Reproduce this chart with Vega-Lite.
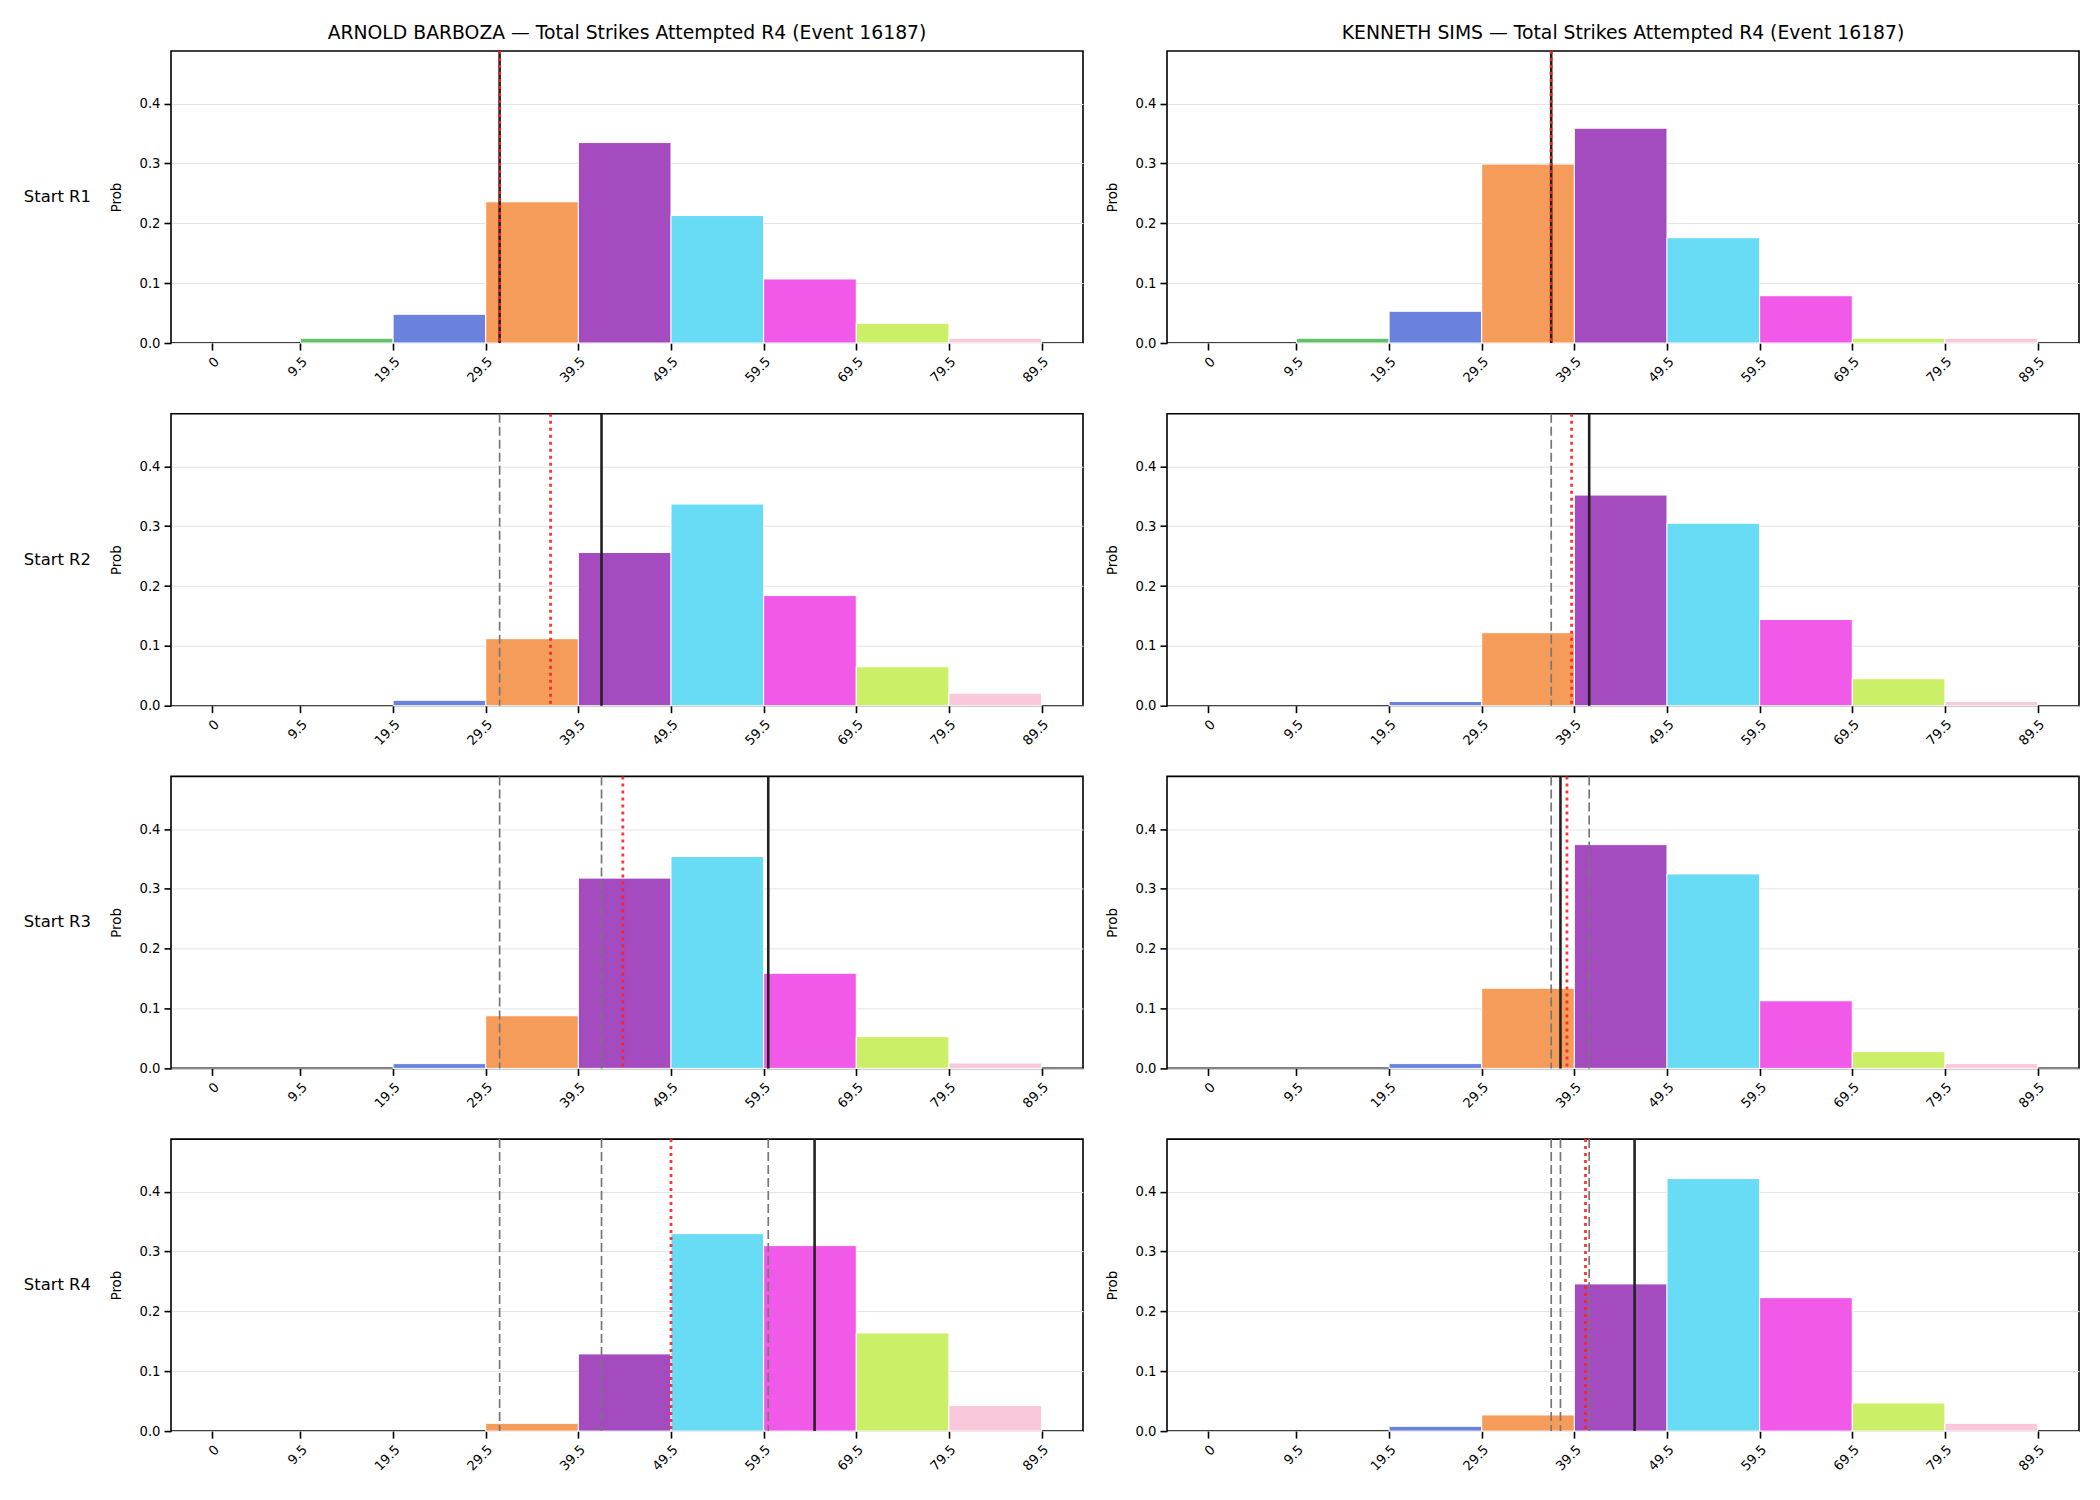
{
  "$schema": "https://vega.github.io/schema/vega-lite/v6.json",
  "background": "white",
  "padding": {"left": 23, "top": 23, "right": 5, "bottom": 5},
  "data": {
    "values": [
      {"k": "bar", "f": "ARNOLD BARBOZA", "s": "Start R1", "b": "b1", "x0": 9.5, "x1": 19.5, "p": 0.008},
      {"k": "bar", "f": "ARNOLD BARBOZA", "s": "Start R1", "b": "b2", "x0": 19.5, "x1": 29.5, "p": 0.048},
      {"k": "bar", "f": "ARNOLD BARBOZA", "s": "Start R1", "b": "b3", "x0": 29.5, "x1": 39.5, "p": 0.236},
      {"k": "bar", "f": "ARNOLD BARBOZA", "s": "Start R1", "b": "b4", "x0": 39.5, "x1": 49.5, "p": 0.335},
      {"k": "bar", "f": "ARNOLD BARBOZA", "s": "Start R1", "b": "b5", "x0": 49.5, "x1": 59.5, "p": 0.213},
      {"k": "bar", "f": "ARNOLD BARBOZA", "s": "Start R1", "b": "b6", "x0": 59.5, "x1": 69.5, "p": 0.107},
      {"k": "bar", "f": "ARNOLD BARBOZA", "s": "Start R1", "b": "b7", "x0": 69.5, "x1": 79.5, "p": 0.033},
      {"k": "bar", "f": "ARNOLD BARBOZA", "s": "Start R1", "b": "b8", "x0": 79.5, "x1": 89.5, "p": 0.008},

      {"k": "bar", "f": "KENNETH SIMS", "s": "Start R1", "b": "b1", "x0": 9.5, "x1": 19.5, "p": 0.008},
      {"k": "bar", "f": "KENNETH SIMS", "s": "Start R1", "b": "b2", "x0": 19.5, "x1": 29.5, "p": 0.053},
      {"k": "bar", "f": "KENNETH SIMS", "s": "Start R1", "b": "b3", "x0": 29.5, "x1": 39.5, "p": 0.299},
      {"k": "bar", "f": "KENNETH SIMS", "s": "Start R1", "b": "b4", "x0": 39.5, "x1": 49.5, "p": 0.359},
      {"k": "bar", "f": "KENNETH SIMS", "s": "Start R1", "b": "b5", "x0": 49.5, "x1": 59.5, "p": 0.176},
      {"k": "bar", "f": "KENNETH SIMS", "s": "Start R1", "b": "b6", "x0": 59.5, "x1": 69.5, "p": 0.079},
      {"k": "bar", "f": "KENNETH SIMS", "s": "Start R1", "b": "b7", "x0": 69.5, "x1": 79.5, "p": 0.008},
      {"k": "bar", "f": "KENNETH SIMS", "s": "Start R1", "b": "b8", "x0": 79.5, "x1": 89.5, "p": 0.008},

      {"k": "bar", "f": "ARNOLD BARBOZA", "s": "Start R2", "b": "b2", "x0": 19.5, "x1": 29.5, "p": 0.009},
      {"k": "bar", "f": "ARNOLD BARBOZA", "s": "Start R2", "b": "b3", "x0": 29.5, "x1": 39.5, "p": 0.112},
      {"k": "bar", "f": "ARNOLD BARBOZA", "s": "Start R2", "b": "b4", "x0": 39.5, "x1": 49.5, "p": 0.256},
      {"k": "bar", "f": "ARNOLD BARBOZA", "s": "Start R2", "b": "b5", "x0": 49.5, "x1": 59.5, "p": 0.337},
      {"k": "bar", "f": "ARNOLD BARBOZA", "s": "Start R2", "b": "b6", "x0": 59.5, "x1": 69.5, "p": 0.184},
      {"k": "bar", "f": "ARNOLD BARBOZA", "s": "Start R2", "b": "b7", "x0": 69.5, "x1": 79.5, "p": 0.065},
      {"k": "bar", "f": "ARNOLD BARBOZA", "s": "Start R2", "b": "b8", "x0": 79.5, "x1": 89.5, "p": 0.021},

      {"k": "bar", "f": "KENNETH SIMS", "s": "Start R2", "b": "b2", "x0": 19.5, "x1": 29.5, "p": 0.007},
      {"k": "bar", "f": "KENNETH SIMS", "s": "Start R2", "b": "b3", "x0": 29.5, "x1": 39.5, "p": 0.122},
      {"k": "bar", "f": "KENNETH SIMS", "s": "Start R2", "b": "b4", "x0": 39.5, "x1": 49.5, "p": 0.352},
      {"k": "bar", "f": "KENNETH SIMS", "s": "Start R2", "b": "b5", "x0": 49.5, "x1": 59.5, "p": 0.305},
      {"k": "bar", "f": "KENNETH SIMS", "s": "Start R2", "b": "b6", "x0": 59.5, "x1": 69.5, "p": 0.144},
      {"k": "bar", "f": "KENNETH SIMS", "s": "Start R2", "b": "b7", "x0": 69.5, "x1": 79.5, "p": 0.045},
      {"k": "bar", "f": "KENNETH SIMS", "s": "Start R2", "b": "b8", "x0": 79.5, "x1": 89.5, "p": 0.007},

      {"k": "bar", "f": "ARNOLD BARBOZA", "s": "Start R3", "b": "b2", "x0": 19.5, "x1": 29.5, "p": 0.008},
      {"k": "bar", "f": "ARNOLD BARBOZA", "s": "Start R3", "b": "b3", "x0": 29.5, "x1": 39.5, "p": 0.088},
      {"k": "bar", "f": "ARNOLD BARBOZA", "s": "Start R3", "b": "b4", "x0": 39.5, "x1": 49.5, "p": 0.318},
      {"k": "bar", "f": "ARNOLD BARBOZA", "s": "Start R3", "b": "b5", "x0": 49.5, "x1": 59.5, "p": 0.354},
      {"k": "bar", "f": "ARNOLD BARBOZA", "s": "Start R3", "b": "b6", "x0": 59.5, "x1": 69.5, "p": 0.159},
      {"k": "bar", "f": "ARNOLD BARBOZA", "s": "Start R3", "b": "b7", "x0": 69.5, "x1": 79.5, "p": 0.053},
      {"k": "bar", "f": "ARNOLD BARBOZA", "s": "Start R3", "b": "b8", "x0": 79.5, "x1": 89.5, "p": 0.009},

      {"k": "bar", "f": "KENNETH SIMS", "s": "Start R3", "b": "b2", "x0": 19.5, "x1": 29.5, "p": 0.008},
      {"k": "bar", "f": "KENNETH SIMS", "s": "Start R3", "b": "b3", "x0": 29.5, "x1": 39.5, "p": 0.134},
      {"k": "bar", "f": "KENNETH SIMS", "s": "Start R3", "b": "b4", "x0": 39.5, "x1": 49.5, "p": 0.374},
      {"k": "bar", "f": "KENNETH SIMS", "s": "Start R3", "b": "b5", "x0": 49.5, "x1": 59.5, "p": 0.325},
      {"k": "bar", "f": "KENNETH SIMS", "s": "Start R3", "b": "b6", "x0": 59.5, "x1": 69.5, "p": 0.113},
      {"k": "bar", "f": "KENNETH SIMS", "s": "Start R3", "b": "b7", "x0": 69.5, "x1": 79.5, "p": 0.028},
      {"k": "bar", "f": "KENNETH SIMS", "s": "Start R3", "b": "b8", "x0": 79.5, "x1": 89.5, "p": 0.008},

      {"k": "bar", "f": "ARNOLD BARBOZA", "s": "Start R4", "b": "b3", "x0": 29.5, "x1": 39.5, "p": 0.013},
      {"k": "bar", "f": "ARNOLD BARBOZA", "s": "Start R4", "b": "b4", "x0": 39.5, "x1": 49.5, "p": 0.129},
      {"k": "bar", "f": "ARNOLD BARBOZA", "s": "Start R4", "b": "b5", "x0": 49.5, "x1": 59.5, "p": 0.330},
      {"k": "bar", "f": "ARNOLD BARBOZA", "s": "Start R4", "b": "b6", "x0": 59.5, "x1": 69.5, "p": 0.310},
      {"k": "bar", "f": "ARNOLD BARBOZA", "s": "Start R4", "b": "b7", "x0": 69.5, "x1": 79.5, "p": 0.164},
      {"k": "bar", "f": "ARNOLD BARBOZA", "s": "Start R4", "b": "b8", "x0": 79.5, "x1": 89.5, "p": 0.043},

      {"k": "bar", "f": "KENNETH SIMS", "s": "Start R4", "b": "b2", "x0": 19.5, "x1": 29.5, "p": 0.008},
      {"k": "bar", "f": "KENNETH SIMS", "s": "Start R4", "b": "b3", "x0": 29.5, "x1": 39.5, "p": 0.027},
      {"k": "bar", "f": "KENNETH SIMS", "s": "Start R4", "b": "b4", "x0": 39.5, "x1": 49.5, "p": 0.246},
      {"k": "bar", "f": "KENNETH SIMS", "s": "Start R4", "b": "b5", "x0": 49.5, "x1": 59.5, "p": 0.422},
      {"k": "bar", "f": "KENNETH SIMS", "s": "Start R4", "b": "b6", "x0": 59.5, "x1": 69.5, "p": 0.223},
      {"k": "bar", "f": "KENNETH SIMS", "s": "Start R4", "b": "b7", "x0": 69.5, "x1": 79.5, "p": 0.047},
      {"k": "bar", "f": "KENNETH SIMS", "s": "Start R4", "b": "b8", "x0": 79.5, "x1": 89.5, "p": 0.013},

      {"k": "cur", "f": "ARNOLD BARBOZA", "s": "Start R1", "v": 31},
      {"k": "exp", "f": "ARNOLD BARBOZA", "s": "Start R1", "v": 31},
      {"k": "prev", "f": "ARNOLD BARBOZA", "s": "Start R2", "v": 31},
      {"k": "exp", "f": "ARNOLD BARBOZA", "s": "Start R2", "v": 36.5},
      {"k": "cur", "f": "ARNOLD BARBOZA", "s": "Start R2", "v": 42},
      {"k": "prev", "f": "ARNOLD BARBOZA", "s": "Start R3", "v": 31},
      {"k": "prev", "f": "ARNOLD BARBOZA", "s": "Start R3", "v": 42},
      {"k": "exp", "f": "ARNOLD BARBOZA", "s": "Start R3", "v": 44.3},
      {"k": "cur", "f": "ARNOLD BARBOZA", "s": "Start R3", "v": 60},
      {"k": "prev", "f": "ARNOLD BARBOZA", "s": "Start R4", "v": 31},
      {"k": "prev", "f": "ARNOLD BARBOZA", "s": "Start R4", "v": 42},
      {"k": "prev", "f": "ARNOLD BARBOZA", "s": "Start R4", "v": 60},
      {"k": "exp", "f": "ARNOLD BARBOZA", "s": "Start R4", "v": 49.5},
      {"k": "cur", "f": "ARNOLD BARBOZA", "s": "Start R4", "v": 65},

      {"k": "cur", "f": "KENNETH SIMS", "s": "Start R1", "v": 37},
      {"k": "exp", "f": "KENNETH SIMS", "s": "Start R1", "v": 37},
      {"k": "prev", "f": "KENNETH SIMS", "s": "Start R2", "v": 37},
      {"k": "exp", "f": "KENNETH SIMS", "s": "Start R2", "v": 39.2},
      {"k": "cur", "f": "KENNETH SIMS", "s": "Start R2", "v": 41.1},
      {"k": "prev", "f": "KENNETH SIMS", "s": "Start R3", "v": 37},
      {"k": "prev", "f": "KENNETH SIMS", "s": "Start R3", "v": 41.1},
      {"k": "exp", "f": "KENNETH SIMS", "s": "Start R3", "v": 38.7},
      {"k": "cur", "f": "KENNETH SIMS", "s": "Start R3", "v": 38},
      {"k": "prev", "f": "KENNETH SIMS", "s": "Start R4", "v": 37},
      {"k": "prev", "f": "KENNETH SIMS", "s": "Start R4", "v": 38},
      {"k": "prev", "f": "KENNETH SIMS", "s": "Start R4", "v": 41.1},
      {"k": "exp", "f": "KENNETH SIMS", "s": "Start R4", "v": 40.7},
      {"k": "cur", "f": "KENNETH SIMS", "s": "Start R4", "v": 46}
    ]
  },
  "facet": {
    "column": {
      "field": "f", "type": "nominal", "sort": ["ARNOLD BARBOZA", "KENNETH SIMS"],
      "header": {
        "title": null,
        "labelExpr": "datum.value + ' — Total Strikes Attempted R4 (Event 16187)'",
        "labelFont": "DejaVu Sans", "labelFontSize": 18.8, "labelColor": "black", "labelPadding": 5.7
      }
    },
    "row": {
      "field": "s", "type": "nominal",
      "header": {
        "title": null, "labelAngle": 0, "labelOrient": "left", "labelAlign": "right",
        "labelFont": "DejaVu Sans", "labelFontSize": 16.4, "labelColor": "black", "labelPadding": -50
      }
    }
  },
  "spacing": {"column": 20, "row": 24.7},
  "resolve": {"axis": {"x": "independent", "y": "independent"}},
  "spec": {
    "width": 912,
    "height": 292,
    "layer": [
      {
        "transform": [{"filter": "datum.k === 'bar'"}],
        "mark": {"type": "rect", "stroke": "white", "strokeWidth": 1},
        "encoding": {
          "x": {
            "field": "x0", "type": "quantitative",
            "scale": {"domain": [-4.475, 93.975], "nice": false, "zero": false},
            "axis": {"title": null, "values": [0, 9.5, 19.5, 29.5, 39.5, 49.5, 59.5, 69.5, 79.5, 89.5], "labelExpr": "'' + datum.value"}
          },
          "x2": {"field": "x1"},
          "y": {
            "field": "p", "type": "quantitative",
            "scale": {"domain": [0, 0.488], "nice": false},
            "axis": {"title": "Prob", "values": [0, 0.1, 0.2, 0.3, 0.4], "format": ".1f"}
          },
          "y2": {"datum": 0},
          "color": {
            "field": "b", "type": "nominal", "legend": null,
            "scale": {
              "domain": ["b1", "b2", "b3", "b4", "b5", "b6", "b7", "b8"],
              "range": ["#63c16c", "#6a82de", "#f59c5b", "#a54bc0", "#68dbf5", "#f15ae9", "#cbf068", "#f9c8da"]
            }
          }
        }
      },
      {
        "transform": [{"filter": "datum.k === 'prev'"}],
        "mark": {"type": "rule", "color": "#777777", "strokeWidth": 1.7, "strokeDash": [9, 4]},
        "encoding": {"x": {"field": "v", "type": "quantitative"}}
      },
      {
        "transform": [{"filter": "datum.k === 'cur'"}],
        "mark": {"type": "rule", "color": "#222222", "strokeWidth": 2.6},
        "encoding": {"x": {"field": "v", "type": "quantitative"}}
      },
      {
        "transform": [{"filter": "datum.k === 'exp'"}],
        "mark": {"type": "rule", "color": "#ff2020", "opacity": 0.9, "strokeWidth": 2.8, "strokeDash": [3, 4]},
        "encoding": {"x": {"field": "v", "type": "quantitative"}}
      }
    ]
  },
  "config": {
    "view": {"stroke": "black", "strokeWidth": 1.6},
    "axis": {
      "labelFont": "DejaVu Sans", "labelFontSize": 13.2, "labelColor": "black",
      "tickColor": "black", "tickWidth": 1.6, "tickSize": 7, "domain": false,
      "titleFont": "DejaVu Sans", "titleFontSize": 13.3, "titleFontWeight": "normal", "titleColor": "black"
    },
    "axisX": {"grid": false, "labelAngle": -45, "labelAlign": "right", "labelBaseline": "top", "labelPadding": 5},
    "axisY": {"grid": true, "gridColor": "#e3e3e3", "gridWidth": 1, "labelPadding": 4, "titlePadding": 16}
  }
}
